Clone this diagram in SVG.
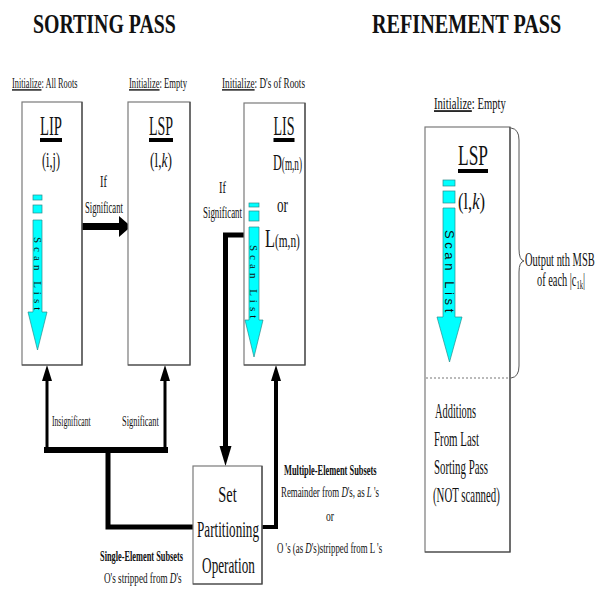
<svg xmlns="http://www.w3.org/2000/svg" width="595" height="591" viewBox="0 0 595 591">
<style>
text{font-family:"Liberation Serif","Times New Roman",serif;fill:#111}
.title{font-size:27px;font-weight:bold}
.init{font-size:14px}
.b{font-weight:bold}
.m{text-anchor:middle}
.box{fill:#fff;stroke:#7a7a7a;stroke-width:1.2}
.shadow{fill:none;stroke:#444;stroke-width:1.2}
.cyan{fill:#00ffff;stroke:#2a8c8c;stroke-width:0.7}
.scan{font-size:11px;letter-spacing:4px}
.thick{fill:none;stroke:#000;stroke-linejoin:miter}
</style>

<text class="title" transform="translate(33,33) scale(0.735,1)">SORTING PASS</text>
<text class="title" transform="translate(372,33) scale(0.747,1)">REFINEMENT PASS</text>

<g id="connectors">
  <rect x="82" y="223" width="38" height="7" fill="#000"/>
  <polygon points="119,216 131,226.5 119,237" fill="#000"/>
  <path class="thick" d="M249,235 H225.5 V448" stroke-width="5"/>
  <polygon points="219.5,446 231.5,446 225.5,466" fill="#000"/>
  <path class="thick" d="M193,527 H108 V450" stroke-width="5"/>
  <path class="thick" d="M44,450 H168" stroke-width="6"/>
  <path class="thick" d="M47,450 V378" stroke-width="3"/>
  <polygon points="42,381 52,381 47,365" fill="#000"/>
  <path class="thick" d="M165,450 V378" stroke-width="3"/>
  <polygon points="160,381 170,381 165,365" fill="#000"/>
  <path class="thick" d="M262,527 H276 V378" stroke-width="4"/>
  <polygon points="271,381 281,381 276,365" fill="#000"/>
</g>

<g id="LIP">
  <text class="init" transform="translate(12,88) scale(0.593,1)"><tspan text-decoration="underline">Initialize</tspan>: All Roots</text>
  <rect class="box" x="22" y="102" width="60" height="263"/>
  <polyline class="shadow" points="82,102 82,365 22,365"/>
  <text class="m" font-size="27" transform="translate(51,135) scale(0.543,1)">LIP</text>
  <rect x="40" y="138" width="22" height="4" fill="#000"/>
  <text class="m" font-size="20" transform="translate(51,167) scale(0.61,1)">(i,j)</text>
  <rect class="cyan" x="33" y="195" width="9" height="5"/>
  <rect class="cyan" x="33" y="205" width="9" height="8"/>
  <polygon class="cyan" points="33,220 42,220 42,312 47,312 37.5,350 28,312 33,312"/>
  <text class="scan" transform="translate(37.5,237) rotate(90)" x="0" y="3.7">Scan List</text>
</g>

<g id="LSP">
  <text class="init" transform="translate(129,88) scale(0.614,1)"><tspan text-decoration="underline">Initialize</tspan>: Empty</text>
  <rect class="box" x="128" y="102" width="62" height="263"/>
  <polyline class="shadow" points="190,102 190,365 128,365"/>
  <text class="m" font-size="27" transform="translate(161,135) scale(0.516,1)">LSP</text>
  <rect x="149" y="138" width="24" height="4" fill="#000"/>
  <text class="m" font-size="20" transform="translate(161,167) scale(0.67,1)">(l,<tspan font-style="italic">k</tspan>)</text>
</g>

<g id="LIS">
  <text class="init" transform="translate(222,88) scale(0.656,1)"><tspan text-decoration="underline">Initialize</tspan>: D's of Roots</text>
  <rect class="box" x="244" y="103" width="61" height="262"/>
  <polyline class="shadow" points="305,103 305,365 244,365"/>
  <text class="m" font-size="27" transform="translate(284,135) scale(0.52,1)">LIS</text>
  <rect x="273.5" y="138" width="21" height="4" fill="#000"/>
  <text transform="translate(273,170) scale(0.51,1)"><tspan font-size="24">D</tspan><tspan font-size="18">(m,n)</tspan></text>
  <text class="m" font-size="22" transform="translate(282.5,212) scale(0.6,1)">or</text>
  <text transform="translate(265,247) scale(0.63,1)"><tspan font-size="26">L</tspan><tspan font-size="18">(m,n)</tspan></text>
  <rect class="cyan" x="249" y="203" width="10" height="4"/>
  <rect class="cyan" x="249" y="211" width="10" height="10"/>
  <polygon class="cyan" points="249,227 259,227 259,320 263,320 254,357 245,320 249,320"/>
  <text class="scan" transform="translate(254,245) rotate(90)" x="0" y="3.7">Scan List</text>
</g>

<g id="labels">
  <text class="m" font-size="16" transform="translate(103.5,187) scale(0.65,1)">If</text>
  <text font-size="16" transform="translate(85,213) scale(0.54,1)">Significant</text>
  <text class="m" font-size="16" transform="translate(222.5,193) scale(0.65,1)">If</text>
  <text font-size="16" transform="translate(203,218) scale(0.556,1)">Significant</text>
  <text font-size="15" transform="translate(52,426) scale(0.51,1)">Insignificant</text>
  <text font-size="15" transform="translate(122,426) scale(0.56,1)">Significant</text>
  <text class="b" font-size="15" transform="translate(284,475) scale(0.56,1)">Multiple-Element Subsets</text>
  <text font-size="15" transform="translate(281,497) scale(0.59,1)">Remainder from <tspan font-style="italic">D</tspan>'s, as <tspan font-style="italic">L</tspan> 's</text>
  <text class="m" font-size="15" transform="translate(330,521) scale(0.64,1)">or</text>
  <text font-size="15" transform="translate(277,553) scale(0.59,1)">O 's (as <tspan font-style="italic">D</tspan>'s)stripped from L 's</text>
  <text class="b" font-size="15" transform="translate(100,561) scale(0.555,1)">Single-Element Subsets</text>
  <text font-size="15" transform="translate(104,583) scale(0.61,1)">O's stripped from <tspan font-style="italic">D</tspan>'s</text>
</g>

<g id="SetPartitioning">
  <rect class="box" x="193" y="466" width="69" height="118"/>
  <polyline class="shadow" points="262,466 262,584 193,584"/>
  <text class="m" font-size="24" transform="translate(227.5,502) scale(0.6,1)">Set</text>
  <text class="m" font-size="24" transform="translate(228,537) scale(0.547,1)">Partitioning</text>
  <text class="m" font-size="24" transform="translate(228.5,573) scale(0.55,1)">Operation</text>
</g>

<g id="RefinementLSP">
  <text font-size="17" transform="translate(434,109) scale(0.627,1)"><tspan text-decoration="underline">Initialize</tspan>: Empty</text>
  <rect class="box" x="425" y="127" width="85" height="425"/>
  <polyline class="shadow" points="510,127 510,552 425,552"/>
  <line x1="426" y1="378" x2="509" y2="378" stroke="#777" stroke-width="1.2" stroke-dasharray="2,2"/>
  <text font-size="30" transform="translate(458,165) scale(0.58,1)">LSP</text>
  <rect x="458" y="169" width="30" height="4" fill="#000"/>
  <text font-size="24" transform="translate(458,209) scale(0.69,1)">(l,<tspan font-style="italic">k</tspan>)</text>
  <rect class="cyan" x="443" y="180" width="12" height="6"/>
  <rect class="cyan" x="443" y="191" width="12" height="12"/>
  <polygon class="cyan" points="443,208 455,208 455,317 462,317 449.5,362 437,317 443,317"/>
  <text transform="translate(449,230) rotate(90)" x="0" y="4.5" font-size="13" letter-spacing="3.6" style="font-family:'Liberation Sans',Arial,sans-serif">Scan List</text>
  <text font-size="21" transform="translate(435,418) scale(0.495,1)">Additions</text>
  <text font-size="21" transform="translate(434,446) scale(0.518,1)">From Last</text>
  <text font-size="21" transform="translate(434,474) scale(0.517,1)">Sorting Pass</text>
  <text font-size="21" transform="translate(433,502) scale(0.515,1)">(NOT scanned)</text>
</g>

<g id="brace">
  <path d="M511,128 Q519,129 519,140 L519,249 Q519,260 524,261 Q519,262 519,272 L519,366 Q519,377 511,378" fill="none" stroke="#555" stroke-width="1"/>
  <text font-size="19" transform="translate(525,266) scale(0.55,1)">Output nth MSB</text>
  <text font-size="19" transform="translate(537,286) scale(0.545,1)">of each |c<tspan font-size="12" dy="3">1k</tspan><tspan dy="-3">|</tspan></text>
</g>
</svg>
